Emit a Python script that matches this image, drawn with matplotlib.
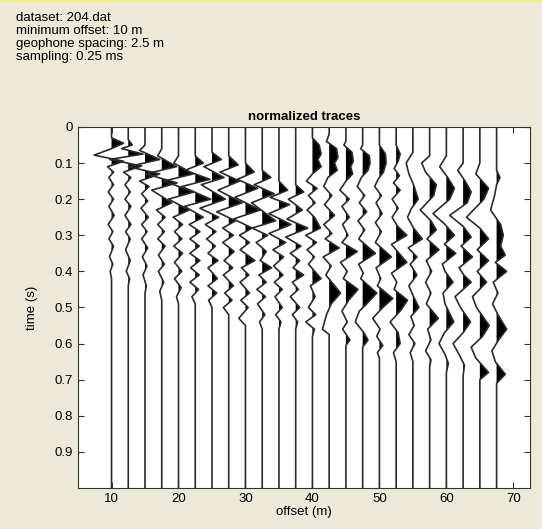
import numpy as np
import matplotlib
matplotlib.use('Agg')
import matplotlib.pyplot as plt
from matplotlib.lines import Line2D

# offsets of the traces (m)
offsets = [10, 12.5, 15, 17.5, 20, 22.5, 25, 27.5, 30, 32.5, 35, 37.5,
           40, 42.5, 45, 47.5, 50, 52.5, 55, 57.5, 60, 62.5, 65, 67.5]

# wiggle of each trace: (time s, deflection m), + is to the right
traces = [
    [(0, 0), (.03, 0), (.045, 1.8), (.06, 0), (.078, -2.6), (.095, 1.8), (.11, -0.6), (.125, 0.3), (.14, -0.4),
     (.16, 0.3), (.18, -0.5), (.2, 0.3), (.22, -0.4), (.245, 0.4), (.27, -0.5), (.29, 0.2), (.31, -0.4),
     (.33, 0.3), (.36, -0.3), (.38, 0.2), (.4, -0.2), (.42, 0), (1, 0)],
    [(0, 0), (.035, 0), (.05, 0.6), (.06, -1.0), (.075, 2.2), (.09, -2.8), (.108, 2.0), (.125, -0.7), (.14, 0.4),
     (.16, -0.5), (.18, 0.3), (.2, -0.5), (.22, 0.4), (.245, -0.5), (.27, 0.4), (.29, -0.4), (.31, 0.3),
     (.34, -0.4), (.37, 0.3), (.4, -0.3), (.42, 0.2), (.44, 0), (1, 0)],
    [(0, 0), (.05, 0), (.065, -0.8), (.09, 2.2), (.11, -2.5), (.13, 2.2), (.15, -0.8), (.165, 0.6), (.185, -0.5),
     (.205, 0.4), (.225, -0.6), (.25, 0.5), (.27, -0.5), (.29, 0.3), (.31, -0.5), (.335, 0.4), (.36, -0.4),
     (.385, 0.3), (.41, -0.3), (.44, 0.2), (.46, 0), (1, 0)],
    [(0, 0), (.06, 0), (.08, -0.6), (.095, 0.8), (.11, 2.2), (.13, -2.4), (.155, 2.3), (.175, -1.5), (.21, 1.5),
     (.23, -0.8), (.25, 0.5), (.27, -0.6), (.29, 0.4), (.31, -0.6), (.33, 0.5), (.355, -0.5), (.38, 0.4),
     (.4, -0.5), (.43, 0.3), (.455, -0.3), (.48, 0), (1, 0)],
    [(0, 0), (.08, 0), (.1, -0.7), (.13, 2.2), (.15, -2.2), (.18, 2.3), (.2, -1.5), (.23, 1.6), (.25, -0.8),
     (.27, 0.6), (.29, -0.6), (.31, 0.5), (.33, -0.7), (.35, 0.6), (.375, -0.6), (.4, 0.5), (.42, -0.6),
     (.445, 0.4), (.47, -0.3), (.49, 0), (1, 0)],
    [(0, 0), (.08, 0), (.1, 1.2), (.12, -1.5), (.145, 2.2), (.165, -2.0), (.2, 2.3), (.22, -1.6), (.25, 1.2),
     (.27, -0.9), (.29, 0.7), (.31, -0.8), (.33, 0.6), (.35, -0.8), (.37, 0.7), (.39, -0.7), (.41, 0.6),
     (.43, -0.8), (.45, 0.5), (.47, -0.5), (.49, 0), (1, 0)],
    [(0, 0), (.07, 0), (.09, 1.4), (.11, -1.2), (.14, 1.8), (.16, -1.6), (.2, 2.0), (.225, -1.8), (.25, 1.0),
     (.27, -1.0), (.29, 0.6), (.31, -0.8), (.33, 0.5), (.35, -0.6), (.37, 0.9), (.39, -0.6), (.42, 0.8),
     (.44, -0.6), (.46, 0.7), (.48, -0.5), (.5, 0), (1, 0)],
    [(0, 0), (.08, 0), (.105, 1.4), (.125, -1.3), (.15, 1.6), (.175, -1.6), (.21, 2.0), (.235, -1.8), (.26, 1.0),
     (.28, -0.9), (.3, 0.7), (.32, -0.9), (.345, 0.8), (.37, -0.7), (.39, 0.6), (.41, -0.8), (.44, 0.7),
     (.46, -0.6), (.48, 0.5), (.5, -0.8), (.52, 0), (1, 0)],
    [(0, 0), (.1, 0), (.125, 1.3), (.145, -1.2), (.17, 1.8), (.195, -1.6), (.23, 2.2), (.255, -1.8), (.28, 1.0),
     (.3, -0.9), (.32, 0.6), (.34, -0.8), (.37, 1.4), (.39, -0.6), (.41, 0.5), (.43, -0.8), (.46, 0.6),
     (.48, -0.7), (.5, 0.4), (.53, -1.0), (.55, 0), (1, 0)],
    [(0, 0), (.12, 0), (.14, 1.3), (.16, -1.2), (.185, 1.8), (.21, -1.6), (.26, 2.0), (.28, -1.5), (.3, 0.8),
     (.32, -0.9), (.345, 0.6), (.37, -0.3), (.39, 1.4), (.41, -0.5), (.43, 0.6), (.45, -0.8), (.47, 0.5),
     (.49, -0.7), (.52, 0.4), (.54, -0.4), (.56, 0), (1, 0)],
    [(0, 0), (.15, 0), (.175, 1.3), (.195, -1.3), (.215, 1.6), (.24, -1.5), (.27, 1.8), (.295, -1.5), (.32, 1.0),
     (.34, -0.9), (.36, 0.7), (.385, -0.8), (.41, 0.6), (.43, -0.7), (.45, 0.5), (.47, -0.6), (.5, 0.5),
     (.52, -0.5), (.54, 0.3), (.56, 0), (1, 0)],
    [(0, 0), (.16, 0), (.18, 1.2), (.2, -1.1), (.23, 1.0), (.255, -1.3), (.28, 1.8), (.305, -1.5), (.33, 0.8),
     (.35, -0.8), (.37, 0.6), (.39, -0.4), (.41, 1.2), (.43, -0.5), (.45, 0.4), (.47, -0.8), (.5, 0.6),
     (.52, -0.5), (.54, 0.3), (.56, 0), (1, 0)],
    [(0, 0), (.03, 0), (.05, 1.0), (.075, 1.3), (.09, 0.8), (.11, 1.3), (.13, 0), (.15, -0.9), (.17, 0.7),
     (.19, -0.6), (.21, 0.4), (.23, -0.8), (.25, 0.3), (.28, 1.2), (.3, -1.0), (.32, 0.6), (.34, -0.8),
     (.36, 0.3), (.38, -0.6), (.42, 1.3), (.44, -0.3), (.47, 0.4), (.5, -0.6), (.52, 0.5), (.54, -1.0),
     (.56, 0.3), (.58, 0), (1, 0)],
    [(0, 0), (.02, 0), (.04, -0.4), (.06, 1.1), (.085, 1.3), (.1, 0.8), (.12, 1.2), (.14, -0.2), (.165, -0.8),
     (.19, 0.4), (.215, -0.7), (.245, 0.8), (.27, -0.8), (.295, 0.4), (.31, -0.6), (.335, 1.5), (.36, -0.9),
     (.385, 0.3), (.41, -0.5), (.46, 1.7), (.49, 0.3), (.52, -0.4), (.56, -1.0), (.575, 0), (1, 0)],
    [(0, 0), (.04, 0), (.05, -0.3), (.07, 0.9), (.095, 1.1), (.11, 0.7), (.13, 1.0), (.15, 0), (.175, -0.9),
     (.2, 0.5), (.22, -0.6), (.25, 0.5), (.27, -0.5), (.3, 0.3), (.32, -0.6), (.345, 1.7), (.375, -0.8),
     (.4, 0.2), (.42, -0.4), (.45, 1.8), (.48, 0.4), (.51, -0.6), (.54, 0.2), (.56, -0.5), (.59, 0.6),
     (.605, 0), (1, 0)],
    [(0, 0), (.05, 0), (.06, -0.3), (.08, 1.0), (.1, 1.1), (.12, 0.8), (.14, -0.2), (.165, -0.8), (.19, 0.3),
     (.21, -0.5), (.235, 0.6), (.26, -0.7), (.285, 0.3), (.31, -0.6), (.35, 1.9), (.38, -0.6), (.405, 0.1),
     (.42, -0.3), (.46, 2.1), (.49, 0.6), (.51, -0.5), (.54, -1.1), (.57, 0.2), (.59, 0.8), (.61, 0), (1, 0)],
    [(0, 0), (.05, 0), (.075, 0.9), (.1, 1.0), (.125, 0.6), (.145, -0.2), (.165, -0.7), (.19, 0.3), (.21, -0.5),
     (.24, 0.4), (.265, -0.6), (.29, 0.3), (.32, -0.6), (.36, 1.8), (.39, -0.5), (.42, 0.2), (.44, -0.3),
     (.475, 2.0), (.5, 0.5), (.53, -1.0), (.56, 0.1), (.58, -0.4), (.605, 0.5), (.625, -0.3), (.64, 0), (1, 0)],
    [(0, 0), (.05, 0), (.075, 0.6), (.095, 0.3), (.115, -0.3), (.135, 0.5), (.155, -0.4), (.175, 0.6), (.2, -0.6),
     (.225, 0.3), (.25, -0.6), (.275, 0.2), (.3, 1.6), (.325, -0.7), (.345, 0.2), (.375, 1.6), (.405, -0.7),
     (.43, 0.1), (.45, -0.3), (.48, 1.7), (.51, 0.6), (.54, -0.9), (.57, 0.3), (.6, 0.6), (.625, -0.4),
     (.65, 0), (1, 0)],
    [(0, 0), (.07, 0), (.1, -1.0), (.13, -0.6), (.16, 0.1), (.2, 0.8), (.225, -0.2), (.25, -0.8), (.28, 0.1),
     (.31, 1.4), (.335, -0.7), (.36, 0.6), (.38, -0.4), (.41, 0.6), (.44, -0.6), (.47, 0.1), (.5, 0.9),
     (.525, -0.3), (.55, 0.2), (.575, -0.6), (.6, 0.3), (.625, -0.4), (.65, 0), (1, 0)],
    [(0, 0), (.08, 0), (.1, -1.2), (.125, -0.6), (.16, 1.0), (.19, 0.6), (.23, -1.4), (.26, 0.2), (.285, 1.0),
     (.31, -0.4), (.34, 1.4), (.37, -0.5), (.4, 0.3), (.43, -0.6), (.46, 0.2), (.49, -0.5), (.53, 1.3),
     (.56, -0.3), (.59, 0.2), (.62, -0.6), (.645, 0.2), (.665, 0), (1, 0)],
    [(0, 0), (.08, 0), (.11, -1.0), (.14, 0.2), (.17, 1.2), (.2, 0.5), (.24, -2.0), (.27, -0.2), (.3, 1.2),
     (.325, -0.3), (.35, 1.4), (.38, -0.6), (.4, -0.2), (.43, 1.0), (.46, -0.5), (.49, -0.2), (.54, 1.1),
     (.57, -0.3), (.6, -1.1), (.63, -0.2), (.655, 0.3), (.68, 0), (1, 0)],
    [(0, 0), (.1, 0), (.12, -0.8), (.15, 0.3), (.18, 1.2), (.21, 0.6), (.245, -2.0), (.275, 0), (.305, 1.2),
     (.33, -0.3), (.36, 1.4), (.39, -0.6), (.41, 0.1), (.43, 1.2), (.47, -1.2), (.5, -0.4), (.54, 1.1),
     (.57, 0.0), (.6, -1.5), (.63, -0.6), (.66, 0.2), (.69, 0), (1, 0)],
    [(0, 0), (.1, 0), (.13, -0.6), (.17, 1.3), (.2, 0.6), (.25, -2.0), (.28, 0), (.31, 1.3), (.34, -0.4),
     (.37, 1.3), (.4, -0.4), (.43, 1.0), (.47, -1.1), (.5, -0.5), (.55, 1.4), (.58, 0.4), (.61, -1.3),
     (.64, -0.6), (.68, 1.3), (.7, 0), (1, 0)],
    [(0, 0), (.12, 0), (.14, 0.5), (.16, 0), (.19, -0.3), (.23, -0.9), (.27, 0.6), (.3, 1.0), (.33, 0.6),
     (.355, 1.3), (.375, -0.2), (.4, 1.5), (.43, -0.5), (.46, 0.2), (.49, -0.6), (.52, 0.2), (.56, 1.5),
     (.59, 0.3), (.62, -0.7), (.65, -0.2), (.685, 1.3), (.71, 0), (1, 0)],
]

x_ticks = [10, 20, 30, 40, 50, 60, 70]
y_ticks = [0, 0.1, 0.2, 0.3, 0.4, 0.5, 0.6, 0.7, 0.8, 0.9]
info_lines = ['dataset: 204.dat', 'minimum offset: 10 m', 'geophone spacing: 2.5 m', 'sampling: 0.25 ms']

plt.rcParams['font.family'] = ['Liberation Sans', 'DejaVu Sans']
bg = '#ece9d8'

fig = plt.figure(figsize=(5.42, 5.29), dpi=100, facecolor=bg)
ax = fig.add_axes([0.144, 0.0775, 0.834, 0.6825])
ax.set_facecolor('white')

for off, tr in zip(offsets, traces):
    t = np.array([p[0] for p in tr])
    a = np.array([p[1] for p in tr])
    ax.fill_betweenx(t, off, off + a, where=a > 0, interpolate=True, color='black', lw=0)
    ax.plot(off + a, t, color='#2b2b2b', lw=1.2)

ax.set_xlim(5, 72.5)
ax.set_ylim(1.0, 0)
ax.set_xticks(x_ticks)
ax.set_yticks(y_ticks)
ax.set_yticklabels(['0'] + [f'{v:g}' for v in y_ticks[1:]])
ax.tick_params(direction='in', length=4, top=True, right=True, labelsize=9.5, color='#333333')
for s in ax.spines.values():
    s.set_color('#333333')
    s.set_linewidth(0.8)

ax.set_xlabel('offset (m)', fontsize=9.5, labelpad=1)
ax.set_ylabel('time (s)', fontsize=9.5, labelpad=12)
ax.set_title('normalized traces', fontsize=9.5, fontweight='bold', pad=5)

fig.text(0.03, 0.977, '\n'.join(info_lines), fontsize=9.5, va='top', ha='left', linespacing=1.12)

# thin yellow border at the top of the window
fig.add_artist(Line2D([0, 1], [0.998, 0.998], transform=fig.transFigure, color='#f5f07a', lw=1.5))

fig.savefig('out.png', dpi=100, facecolor=bg)
